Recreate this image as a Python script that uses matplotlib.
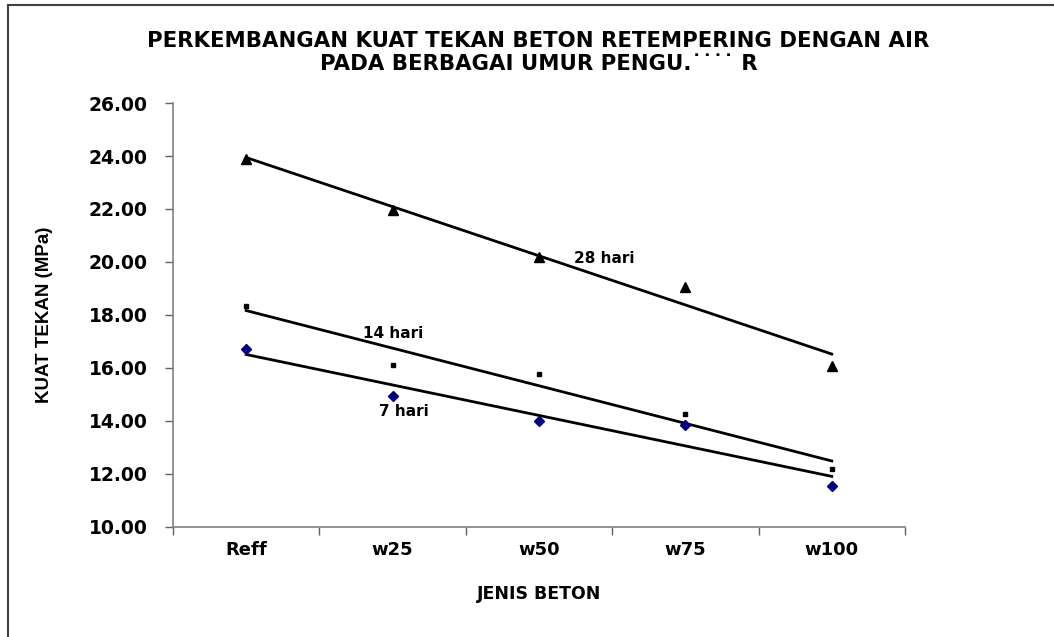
import numpy as np
import matplotlib
matplotlib.use('Agg')
import matplotlib.pyplot as plt
from matplotlib.lines import Line2D

# Data
jenis_beton = ['Reff', 'w25', 'w50', 'w75', 'w100']
hari_28 = [23.89, 21.96, 20.19, 19.06, 16.07]
hari_14 = [18.35, 16.10, 15.77, 14.25, 12.18]
hari_7 = [16.72, 14.96, 14.00, 13.84, 11.53]
y_ticks = [10, 12, 14, 16, 18, 20, 22, 24, 26]

plt.rcParams['font.family'] = 'DejaVu Sans'
plt.rcParams['font.weight'] = 'bold'
plt.rcParams['axes.labelweight'] = 'bold'

fig = plt.figure(figsize=(10.54, 6.37), dpi=100)
ax = fig.add_axes([0.1641, 0.1727, 0.6945, 0.6656])

x = np.arange(len(jenis_beton))

# Series and linear trendlines
series = [
    (hari_28, dict(marker='^', color='black', markersize=7)),
    (hari_14, dict(marker='s', color='black', markersize=2.2)),
    (hari_7, dict(marker='D', color='#000080', markersize=5)),
]
for vals, style in series:
    ax.plot(x, vals, linestyle='none', zorder=3, **style)
    k, b = np.polyfit(x, vals, 1)
    ax.plot(x, k * x + b, color='black', linewidth=2, zorder=2)

ax.text(2.444, 20.15, '28 hari', ha='center', va='center', fontsize=11)
ax.text(1.003, 17.32, '14 hari', ha='center', va='center', fontsize=11)
ax.text(1.078, 14.34, '7 hari', ha='center', va='center', fontsize=11)

ax.set_xlim(-0.5, 4.5)
ax.set_ylim(10, 26)
ax.set_yticks(y_ticks)
ax.set_yticklabels(['%.2f' % v for v in y_ticks])
ax.set_xticks(x)
ax.set_xticklabels(jenis_beton)
ax.set_xticks(np.arange(-0.5, 5, 1), minor=True)
ax.tick_params(axis='x', which='major', length=0, pad=10, labelsize=13)
ax.tick_params(axis='x', which='minor', length=6, direction='out', color='#606060', width=1)
ax.tick_params(axis='y', length=6, direction='out', color='#606060', width=1, pad=12, labelsize=13.5)

for side in ['top', 'right']:
    ax.spines[side].set_visible(False)
for side in ['left', 'bottom']:
    ax.spines[side].set_color('#808080')
    ax.spines[side].set_linewidth(1.2)

ax.set_xlabel('JENIS BETON', fontsize=12.5, labelpad=19)
ax.set_ylabel('KUAT TEKAN (MPa)', fontsize=13.5, family='Liberation Sans', labelpad=26)

fig.text(0.511, 0.935, 'PERKEMBANGAN KUAT TEKAN BETON RETEMPERING DENGAN AIR',
         ha='center', va='center', fontsize=15.3)
fig.text(0.511, 0.900, 'PADA BERBAGAI UMUR PENGU.\u02d9\u02d9\u02d9\u02d9 R',
         ha='center', va='center', fontsize=15.3)

# Chart area border (top and left)
fig.add_artist(Line2D([8 / 1054, 1], [1 - 5 / 637, 1 - 5 / 637], color='#404040', linewidth=1.5,
                      transform=fig.transFigure))
fig.add_artist(Line2D([8 / 1054, 8 / 1054], [0, 1 - 5 / 637], color='#404040', linewidth=1.5,
                      transform=fig.transFigure))

fig.savefig('out.png', dpi=100)
